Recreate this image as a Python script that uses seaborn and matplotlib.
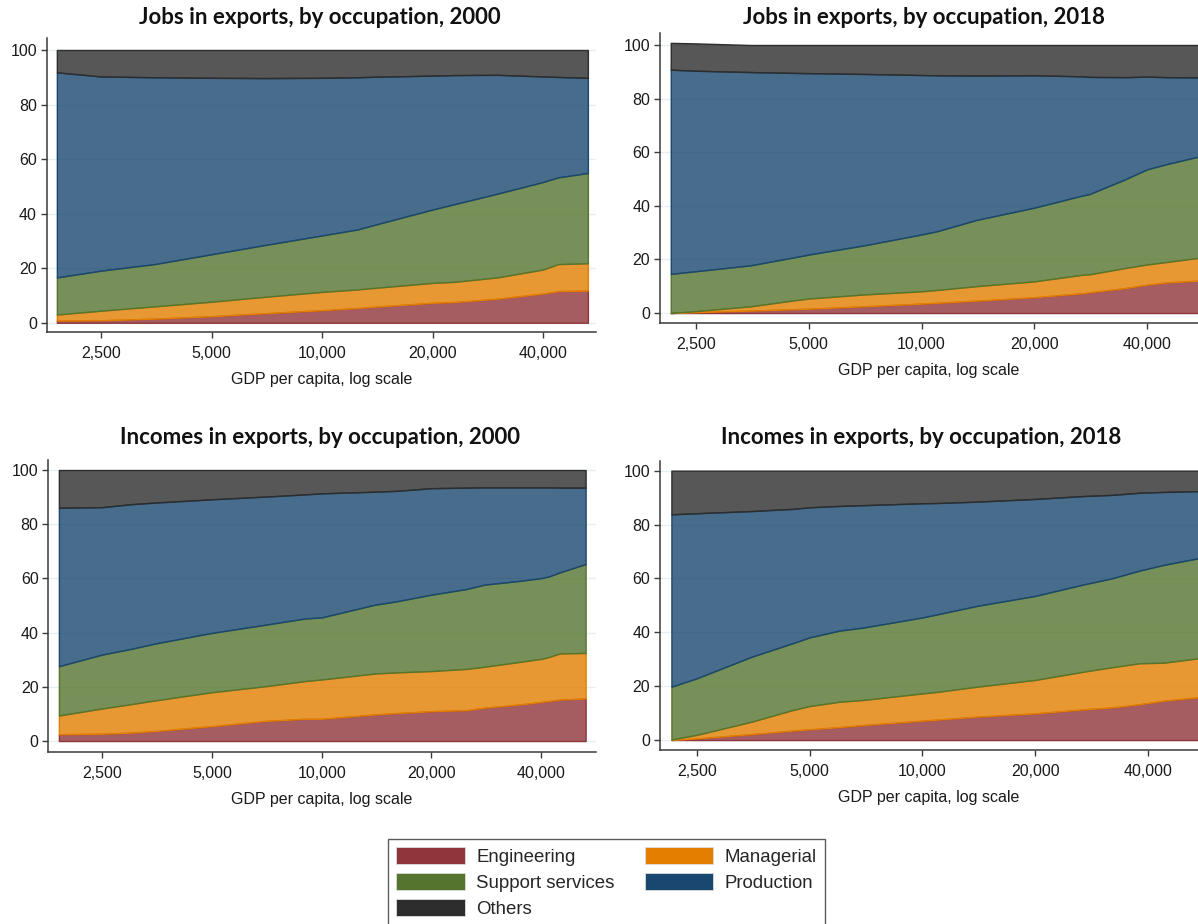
import numpy as np
import matplotlib
matplotlib.use("Agg")
import matplotlib.pyplot as plt
from matplotlib.patches import Patch
from matplotlib.ticker import FixedLocator, FixedFormatter, NullLocator
import seaborn as sns

# ---------------------------------------------------------------
# Occupation shares (%) along GDP per capita (constant US$)
# ---------------------------------------------------------------
occupations = ["Engineering", "Managerial", "Support services", "Production", "Others"]
occ_colors = ["#90353B", "#E37E00", "#55752F", "#1A476F", "#2D2D2D"]

# Jobs in exports, 2000
jobs00_gdp = [1895, 2500, 3500, 5000, 7000, 10000, 12500, 14000, 20000, 23000, 30000, 40000, 44000, 53000]
jobs00_eng = [0.8, 0.9, 1.5, 2.4, 3.5, 4.6, 5.4, 5.9, 7.3, 7.6, 8.8, 10.7, 11.6, 11.8]
jobs00_mgr = [2.2, 3.5, 4.5, 5.3, 6.0, 6.7, 6.8, 6.9, 7.3, 7.4, 7.8, 8.8, 9.9, 10.0]
jobs00_sup = [13.6, 14.7, 15.5, 17.4, 19.0, 20.7, 22.0, 23.2, 26.9, 28.5, 30.7, 32.1, 31.8, 33.1]
jobs00_prd = [75.2, 71.2, 68.5, 64.7, 61.2, 57.8, 55.8, 54.2, 49.1, 47.3, 43.6, 38.7, 36.8, 34.9]
jobs00_oth = [8.2, 9.7, 10.0, 10.2, 10.3, 10.2, 10.0, 9.8, 9.4, 9.2, 9.1, 9.7, 9.9, 10.2]

# Jobs in exports, 2018
jobs18_gdp = [2140, 2500, 3500, 4500, 5000, 7000, 10000, 11000, 14000, 20000, 27000, 28000, 35000, 40000, 45000, 55000]
jobs18_eng = [0.0, 0.3, 0.9, 1.4, 1.6, 2.5, 3.5, 3.8, 4.6, 5.9, 7.4, 7.7, 9.3, 10.6, 11.4, 12.1]
jobs18_mgr = [0.0, 0.4, 1.6, 3.2, 3.8, 4.4, 4.6, 4.8, 5.4, 5.9, 6.9, 6.7, 7.5, 7.5, 7.6, 8.5]
jobs18_sup = [14.6, 14.9, 15.3, 16.0, 16.4, 18.3, 21.2, 21.9, 24.7, 27.5, 29.6, 29.9, 33.1, 35.5, 36.5, 37.8]
jobs18_prd = [76.2, 74.8, 72.1, 69.0, 67.7, 64.0, 59.5, 58.2, 53.9, 49.4, 44.4, 43.8, 38.1, 34.6, 32.5, 29.5]
jobs18_oth = [10.0, 10.2, 10.1, 10.4, 10.5, 10.8, 11.2, 11.3, 11.4, 11.3, 11.7, 11.9, 12.0, 11.8, 12.0, 12.1]

# Incomes in exports, 2000
inc00_gdp = [1900, 2500, 3000, 3500, 5000, 7000, 9000, 10000, 14000, 16000, 20000, 25000, 28000, 35000, 40000, 42000, 45000, 53000]
inc00_eng = [2.5, 2.7, 3.1, 3.7, 5.5, 7.4, 8.2, 8.2, 9.8, 10.3, 11.0, 11.4, 12.3, 13.5, 14.4, 14.8, 15.3, 15.7]
inc00_mgr = [6.9, 9.3, 10.5, 11.3, 12.5, 12.8, 13.9, 14.5, 15.1, 15.0, 14.8, 15.2, 15.1, 15.7, 15.9, 16.2, 17.0, 16.8]
inc00_sup = [18.2, 19.9, 20.4, 21.0, 21.9, 22.7, 23.1, 22.9, 25.4, 26.2, 28.2, 29.5, 30.3, 29.9, 29.8, 29.7, 29.9, 32.8]
inc00_prd = [58.5, 54.4, 53.4, 52.0, 49.3, 47.3, 45.8, 45.8, 41.7, 40.8, 39.3, 37.4, 35.9, 34.5, 33.5, 32.9, 31.3, 28.2]
inc00_oth = [13.9, 13.7, 12.6, 12.0, 10.8, 9.8, 9.0, 8.6, 8.0, 7.7, 6.7, 6.5, 6.4, 6.4, 6.4, 6.4, 6.5, 6.5]

# Incomes in exports, 2018
inc18_gdp = [2140, 2500, 3500, 4500, 5000, 6000, 7000, 10000, 11000, 14000, 20000, 27000, 32000, 38000, 44000, 55000]
inc18_eng = [0.0, 0.6, 2.2, 3.5, 4.0, 4.8, 5.6, 7.2, 7.6, 8.7, 9.9, 11.4, 12.1, 13.3, 14.6, 15.9]
inc18_mgr = [0.2, 1.3, 4.6, 7.6, 8.6, 9.4, 9.3, 10.1, 10.3, 11.1, 12.4, 14.0, 14.9, 15.2, 14.1, 14.5]
inc18_sup = [19.6, 21.0, 24.1, 24.8, 25.5, 26.4, 26.9, 28.2, 28.8, 30.0, 31.2, 32.4, 33.0, 34.4, 36.3, 37.2]
inc18_prd = [64.0, 61.3, 54.1, 49.9, 48.3, 46.3, 45.4, 42.4, 41.3, 38.7, 36.0, 32.8, 31.0, 28.9, 27.1, 24.8]
inc18_oth = [16.2, 15.8, 15.0, 14.2, 13.6, 13.1, 12.8, 12.1, 12.0, 11.5, 10.5, 9.4, 9.0, 8.2, 7.9, 7.6]

x_ticks = [2500, 5000, 10000, 20000, 40000]
x_tick_labels = ["2,500", "5,000", "10,000", "20,000", "40,000"]
y_ticks = [0, 20, 40, 60, 80, 100]
y_tick_labels = ["0", "20", "40", "60", "80", "100"]
x_title = "GDP per capita, log scale"

# rect = (left, top, right, bottom) in pixels; title_xy = title centre in pixels
panels = [
    dict(title="Jobs in exports, by occupation, 2000", gdp=jobs00_gdp,
         shares=[jobs00_eng, jobs00_mgr, jobs00_sup, jobs00_prd, jobs00_oth],
         rect=(46.7, 38, 596, 332), xlim=(1778, 55770), ylim=(-3.4, 104.4),
         title_xy=(320, 17)),
    dict(title="Jobs in exports, by occupation, 2018", gdp=jobs18_gdp,
         shares=[jobs18_eng, jobs18_mgr, jobs18_sup, jobs18_prd, jobs18_oth],
         rect=(660, 33, 1198, 323), xlim=(2003, 54730), ylim=(-3.73, 104.48),
         title_xy=(924, 17)),
    dict(title="Incomes in exports, by occupation, 2000", gdp=inc00_gdp,
         shares=[inc00_eng, inc00_mgr, inc00_sup, inc00_prd, inc00_oth],
         rect=(48.3, 460, 596, 751.7), xlim=(1777, 56600), ylim=(-3.95, 103.7),
         title_xy=(320, 438)),
    dict(title="Incomes in exports, by occupation, 2018", gdp=inc18_gdp,
         shares=[inc18_eng, inc18_mgr, inc18_sup, inc18_prd, inc18_oth],
         rect=(660, 460.7, 1198, 750), xlim=(1995, 54400), ylim=(-3.7, 103.7),
         title_xy=(921, 438)),
]

sns.set_theme(style="white")
plt.rcParams["font.family"] = ["Liberation Sans", "DejaVu Sans"]

W, H = 1198, 924
fig = plt.figure(figsize=(W / 100, H / 100), dpi=100)
fig.patch.set_facecolor("white")

axis_color = "#3a3a3a"

for p in panels:
    x0, y0, x1, y1 = p["rect"]
    ax = fig.add_axes([x0 / W, 1 - y1 / H, (x1 - x0) / W, (y1 - y0) / H])
    ax.set_facecolor("white")

    polys = ax.stackplot(p["gdp"], *[np.asarray(s) for s in p["shares"]],
                         colors=occ_colors, zorder=2)
    for poly, c in zip(polys, occ_colors):
        poly.set_facecolor(matplotlib.colors.to_rgba(c, 0.8))
        poly.set_edgecolor(c)
        poly.set_linewidth(1.0)

    ax.set_xscale("log")
    ax.set_xlim(*p["xlim"])
    ax.set_ylim(*p["ylim"])
    ax.xaxis.set_major_locator(FixedLocator(x_ticks))
    ax.xaxis.set_major_formatter(FixedFormatter(x_tick_labels))
    ax.xaxis.set_minor_locator(NullLocator())
    ax.yaxis.set_major_locator(FixedLocator(y_ticks))
    ax.yaxis.set_major_formatter(FixedFormatter(y_tick_labels))

    ax.yaxis.grid(True, color="#e6eff1", linewidth=1.0, zorder=0)
    ax.xaxis.grid(False)
    ax.set_axisbelow(True)

    sns.despine(ax=ax, top=True, right=True)
    for side in ("left", "bottom"):
        ax.spines[side].set_color(axis_color)
        ax.spines[side].set_linewidth(1.1)

    ax.tick_params(axis="both", which="major", direction="out", length=4,
                   width=1, color=axis_color, labelsize=11.5, labelcolor="#1a1a1a",
                   bottom=True, left=True)
    ax.tick_params(axis="x", pad=6)
    ax.tick_params(axis="y", pad=3)

    ax.set_xlabel(x_title, fontsize=11.5, color="#1a1a1a", labelpad=8)

    tx, ty = p["title_xy"]
    fig.text(tx / W, 1 - ty / H, p["title"], ha="center", va="center",
             fontsize=16, fontweight="bold", color="#111111",
             family=["Lato", "DejaVu Sans"])

handles = [Patch(facecolor=c, edgecolor="#dddddd", linewidth=0.6, label=l)
           for c, l in zip(occ_colors, occupations)]
# two columns filled column by column: Engineering / Support services / Others, Managerial / Production
order = [0, 2, 4, 1, 3]
leg = fig.legend([handles[i] for i in order], [occupations[i] for i in order],
                 loc="upper left", bbox_to_anchor=(388 / W, 1 - 839 / H),
                 ncol=2, fontsize=13.4, frameon=True, fancybox=False,
                 handlelength=3.7, handleheight=1.0, handletextpad=0.6,
                 labelspacing=0.38, columnspacing=1.6, borderpad=0.45,
                 borderaxespad=0.0)
leg.get_frame().set_edgecolor("#333333")
leg.get_frame().set_linewidth(1.0)

fig.savefig("out.png", dpi=100, facecolor="white")
